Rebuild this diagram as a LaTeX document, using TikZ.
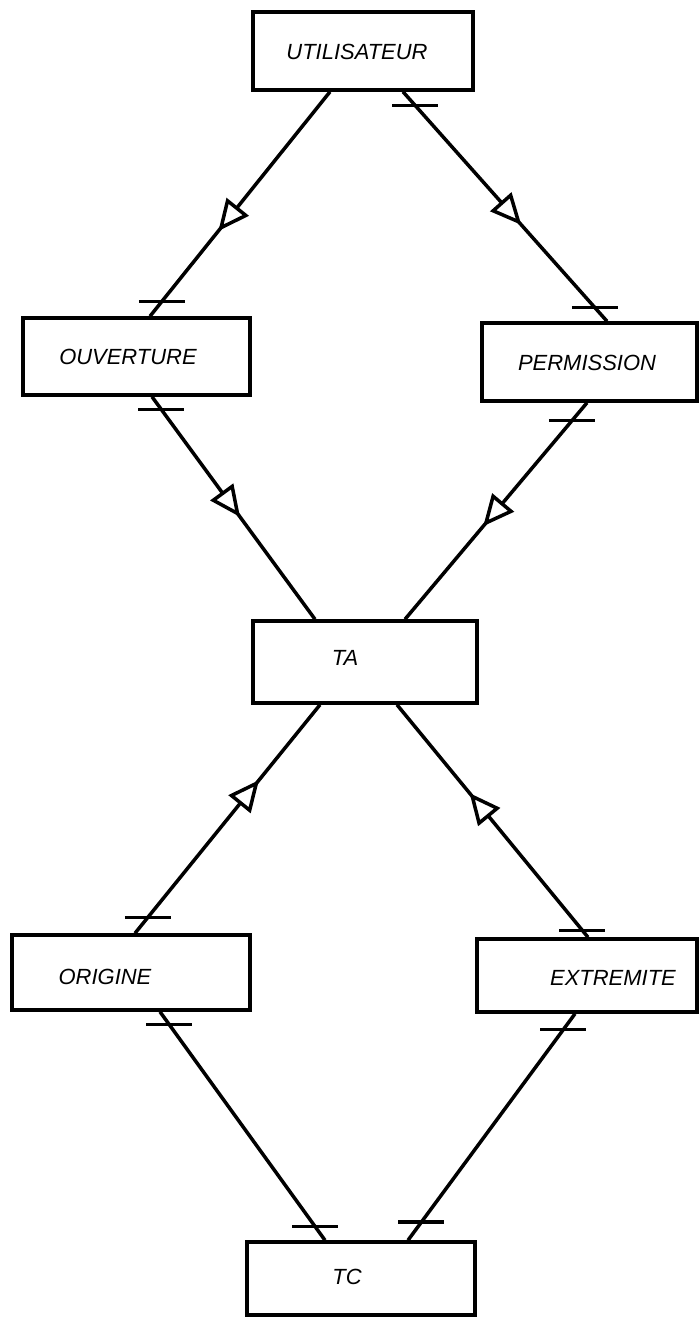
\documentclass[tikz,border=0pt]{standalone}
\usepackage{fontspec}
\setmainfont{Liberation Sans}
\usepackage{tikz}
\usetikzlibrary{arrows.meta,calc,decorations.markings}

\tikzset{
	box/.style={draw, rectangle, inner sep=0pt},
	txt/.style={font=\fontsize{12.5}{15}\selectfont\itshape},
	bar/.style={postaction={decorate, decoration={markings, mark=at position #1 with {\pgftransformresetnontranslations \draw (-23,0) -- (23,0);}}}},
	tri/.style={postaction={decorate, decoration={markings, mark=at position #1 with {\arrow{Triangle[fill=white,length=0.62cm,width=0.56cm]}}}}},
	trirev/.style={postaction={decorate, decoration={markings, mark=at position #1 with {\arrowreversed{Triangle[fill=white,length=0.62cm,width=0.56cm]}}}}}
}

\begin{document}
\begin{tikzpicture}[x=0.02cm, y=-0.02cm, line width=2pt]
	\useasboundingbox (0,0) rectangle (699,1319);

	\node[box, minimum width=4.4cm, minimum height=1.56cm] (utilisateur) at (363,51) {};
	\node[box, minimum width=4.54cm, minimum height=1.54cm] (ouverture) at (136.5,356.5) {};
	\node[box, minimum width=4.3cm, minimum height=1.56cm] (permission) at (589.5,362) {};
	\node[box, minimum width=4.48cm, minimum height=1.64cm] (ta) at (365,662) {};
	\node[box, minimum width=4.76cm, minimum height=1.5cm] (origine) at (131,972.5) {};
	\node[box, minimum width=4.4cm, minimum height=1.46cm] (extremite) at (587,975.5) {};
	\node[box, minimum width=4.56cm, minimum height=1.46cm] (tc) at (361,1278.5) {};

	\node[txt] (utilisateur-t) at (357,52) {UTILISATEUR};
	\node[txt] (ouverture-t) at (128,357) {OUVERTURE};
	\node[txt] (permission-t) at (587,363) {PERMISSION};
	\node[txt] (ta-t) at (345,658) {TA};
	\node[txt] (origine-t) at (105,977) {ORIGINE};
	\node[txt] (extremite-t) at (613,978) {EXTREMITE};
	\node[txt] (tc-t) at (347,1277) {TC};

	\draw[tri=0.62, bar=0.934] ($(utilisateur.south)+(-33,0)$) -- ($(ouverture.north)+(13.5,0)$);
	\draw[bar=0.06, tri=0.58, bar=0.94] ($(utilisateur.south)+(40,0)$) -- ($(permission.north)+(17.5,0)$);
	\draw[bar=0.058, tri=0.54] ($(ouverture.south)+(15.5,0)$) -- ($(ta.north)+(-50,0)$);
	\draw[bar=0.083, tri=0.57] ($(permission.south)+(-2.5,0)$) -- ($(ta.north)+(40,0)$);
	\draw[trirev=0.33, bar=0.93] ($(ta.south)+(-45,0)$) -- ($(origine.north)+(4,0)$);
	\draw[trirev=0.38, bar=0.97] ($(ta.south)+(32,0)$) -- ($(extremite.north)+(1,0)$);
	\draw[bar=0.056, bar=0.94] ($(origine.south)+(29,0)$) -- ($(tc.north)+(-36,0)$);
	\draw[bar=0.07, bar=0.92] ($(extremite.south)+(-12,0)$) -- ($(tc.north)+(47,0)$);
\end{tikzpicture}
\end{document}
